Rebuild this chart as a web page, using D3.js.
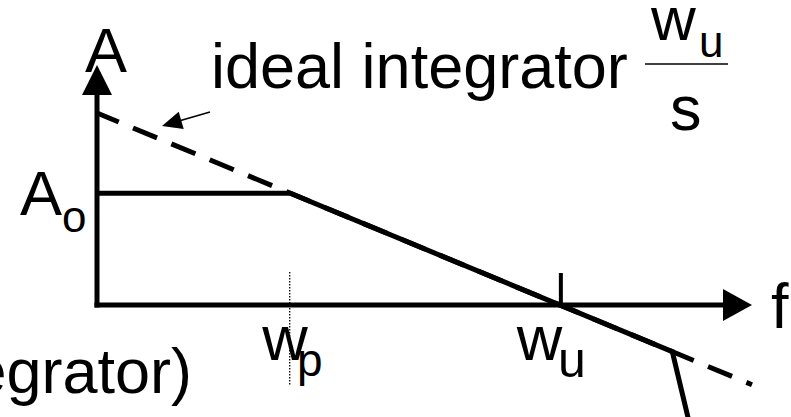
<!DOCTYPE html>
<html>
<head>
<meta charset="utf-8">
<script src="https://cdn.jsdelivr.net/npm/d3@7"></script>
<style>
  body { margin: 0; background: #fff; }
  svg { display: block; }
  text { font-family: "Liberation Sans", Arial, sans-serif; fill: #000; }
</style>
</head>
<body>
<svg id="chart" width="791" height="417"></svg>
<script>
// log-frequency in decades, gain in dB
var fMax = 6;
var aMax = 106;
var wp = 1.77;
var wu = 4.24;
var A0 = 49.4;

// ideal integrator wu/s : -20 dB/dec, 0 dB at wu
var idealF = [0, 6];
var idealA = [84.8, -35.2];

// real amplifier response
var realF = [0, 1.77, 5.27, 5.45];
var realA = [49.4, 49.4, -20.6, -57];

var svg = d3.select("#chart");

var x = d3.scaleLinear().domain([0, fMax]).range([97, 752]);
var y = d3.scaleLinear().domain([0, aMax]).range([305, 65]);

var line = d3.line().x(function(d) { return x(d[0]); }).y(function(d) { return y(d[1]); });

//ideal integrator, dashed
svg.append("path")
    .datum(d3.zip(idealF, idealA))
    .attr("fill", "none")
    .attr("stroke", "#000")
    .attr("stroke-width", 5)
    .attr("stroke-dasharray", "26,15.5")
    .attr("stroke-dashoffset", 2.5)
    .attr("d", line);

//real response
svg.append("path")
    .datum(d3.zip(realF, realA))
    .attr("fill", "none")
    .attr("stroke", "#000")
    .attr("stroke-width", 5)
    .attr("stroke-linejoin", "miter")
    .attr("d", line);

//axes
svg.append("line")
    .attr("x1", x(0)).attr("x2", x(0))
    .attr("y1", y(0) + 2.5).attr("y2", y(aMax) + 30)
    .attr("stroke", "#000").attr("stroke-width", 5);
svg.append("path")
    .attr("d", "M" + x(0) + "," + y(aMax) + "L" + (x(0) - 15) + "," + (y(aMax) + 30) + "L" + (x(0) + 15) + "," + (y(aMax) + 30) + "Z")
    .attr("fill", "#000");

svg.append("line")
    .attr("x1", x(0) - 2.5).attr("x2", x(fMax) - 29)
    .attr("y1", y(0)).attr("y2", y(0))
    .attr("stroke", "#000").attr("stroke-width", 5);
svg.append("path")
    .attr("d", "M" + x(fMax) + "," + y(0) + "L" + (x(fMax) - 29) + "," + (y(0) - 16) + "L" + (x(fMax) - 29) + "," + (y(0) + 16) + "Z")
    .attr("fill", "#000");

//wu tick and wp dotted marker
svg.append("line")
    .attr("x1", x(wu) + 1).attr("x2", x(wu) + 1)
    .attr("y1", y(0) - 32).attr("y2", y(0))
    .attr("stroke", "#000").attr("stroke-width", 4);
svg.append("line")
    .attr("x1", x(wp) - 0.5).attr("x2", x(wp) - 0.5)
    .attr("y1", y(0) - 33).attr("y2", y(0) + 80)
    .attr("stroke", "#000").attr("stroke-width", 1.3)
    .attr("stroke-dasharray", "1.5,1.5");

//pointer arrow to ideal line
svg.append("line")
    .attr("x1", 210).attr("y1", 112).attr("x2", 178).attr("y2", 121.3)
    .attr("stroke", "#000").attr("stroke-width", 1.6);
svg.append("path")
    .attr("d", "M162,126L183.7,129.1L178.7,111.8Z")
    .attr("fill", "#000");

//labels, subscript as tspan
function label(txt, sub, lx, ly, size, subSize, sx, sy) {
    var t = svg.append("text").attr("x", lx).attr("y", ly).style("font-size", size + "px");
    t.append("tspan").text(txt);
    if (sub) {
        t.append("tspan").attr("x", sx).attr("y", sy).style("font-size", subSize + "px").text(sub);
    }
    return t;
}

label("A", null, 85, 72, 63);
label("ideal integrator", null, 211, 88, 63);
label("A", "o", 20, 215, 63, 44, 62, 232);
label("w", "p", x(wp) - 28, 360, 63, 46, 297, 376);
label("w", "u", x(wu) - 43, 360, 63, 50, 558, 377);
label("f", null, 771, 328, 63);

//fraction wu / s
label("w", "u", 651, 40, 62, 44, 699, 57);
svg.append("line")
    .attr("x1", 645).attr("x2", 728).attr("y1", 64).attr("y2", 64)
    .attr("stroke", "#000").attr("stroke-width", 1.5);
label("s", null, 670, 130, 63);

svg.append("text").attr("x", 192).attr("y", 393)
    .attr("text-anchor", "end").style("font-size", "63px").text("egrator)");
</script>
</body>
</html>
